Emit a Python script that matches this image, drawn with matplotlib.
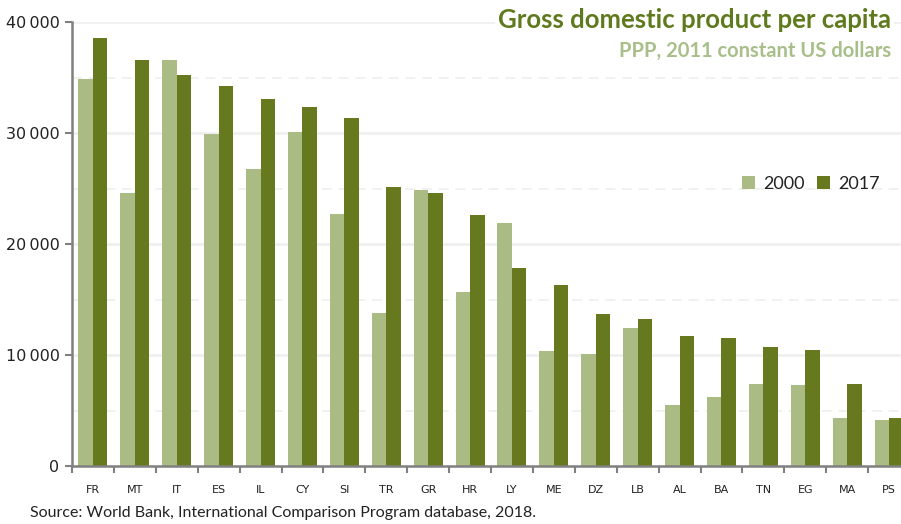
import matplotlib.pyplot as plt
import numpy as np

countries = ["FR", "MT", "IT", "ES", "IL", "CY", "SI", "TR", "GR", "HR",
             "LY", "ME", "DZ", "LB", "AL", "BA", "TN", "EG", "MA", "PS"]
gdp_2000 = [34900, 24600, 36550, 29950, 26750, 30050, 22700, 13750, 24850, 15650,
            21900, 10350, 10050, 12450, 5500, 6250, 7400, 7300, 4350, 4100]
gdp_2017 = [38600, 36550, 35250, 34250, 33100, 32350, 31350, 25100, 24600, 22650,
            17800, 16300, 13700, 13200, 11700, 11550, 10700, 10450, 7400, 4350]

light = "#abbb84"
dark = "#66791f"

fig = plt.figure(figsize=(9.01, 5.24), dpi=100)
ax = fig.add_axes([72/901, 58/524, 838/901, 444/524])

x = np.arange(len(countries))
w = 0.346
ax.bar(x - w/2, gdp_2000, w, color=light, label="2000", zorder=3)
ax.bar(x + w/2, gdp_2017, w, color=dark, label="2017", zorder=3)

ax.set_xlim(-0.5, len(countries) - 0.5)
ax.set_ylim(0, 40000)

# grid: solid every 10 000, dashed every 5 000
for v in [10000, 20000, 30000, 40000]:
    ax.axhline(v, color="#efefef", lw=1.8, zorder=1)
for v in [5000, 15000, 25000, 35000]:
    ax.axhline(v, color="#efefef", lw=1.2, ls=(0, (6, 4)), zorder=1)

ax.set_yticks([0, 10000, 20000, 30000, 40000])
ax.set_yticklabels(["0", "10\u2009000", "20\u2009000", "30\u2009000", "40\u2009000"],
                   fontsize=11.5, fontfamily="DejaVu Sans", color="#222222")
ax.set_xticks(x)
ax.set_xticklabels(countries, fontsize=8, fontfamily="Liberation Sans Narrow", color="#222222")
ax.tick_params(axis="x", which="major", length=0, pad=14)
ax.set_xticks(np.arange(-0.5, len(countries)), minor=True)
ax.tick_params(axis="x", which="minor", length=5, width=1.5, color="#808080", direction="out")
ax.tick_params(axis="y", length=5, width=1.5, color="#808080", direction="out", pad=4)

for s in ["top", "right"]:
    ax.spines[s].set_visible(False)
for s in ["left", "bottom"]:
    ax.spines[s].set_color("#808080")
    ax.spines[s].set_linewidth(1.8)
    ax.spines[s].set_zorder(4)

leg = ax.legend(loc="upper right", bbox_to_anchor=(0.983, 0.69), ncol=2, frameon=False,
                prop={"family": "Lato", "size": 13}, handlelength=0.7, handleheight=0.7,
                handletextpad=0.45, columnspacing=0.7)
for t in leg.get_texts():
    t.set_color("#222222")

fig.text(0.989, 0.962, "Gross domestic product per capita", ha="right", va="center",
         fontsize=18.5, fontweight="bold", fontfamily="Lato", color="#5f7a1d",
         bbox=dict(facecolor="white", edgecolor="none", pad=2))
fig.text(0.989, 0.902, "PPP, 2011 constant US dollars", ha="right", va="center",
         fontsize=14.5, fontweight="bold", fontfamily="Lato", color="#a8bf8a")

fig.text(30/901, 11/524, "Source: World Bank, International Comparison Program database, 2018.",
         ha="left", va="center", fontsize=11.5, fontfamily="Lato", color="#222222")

plt.savefig("out.png", dpi=100)
